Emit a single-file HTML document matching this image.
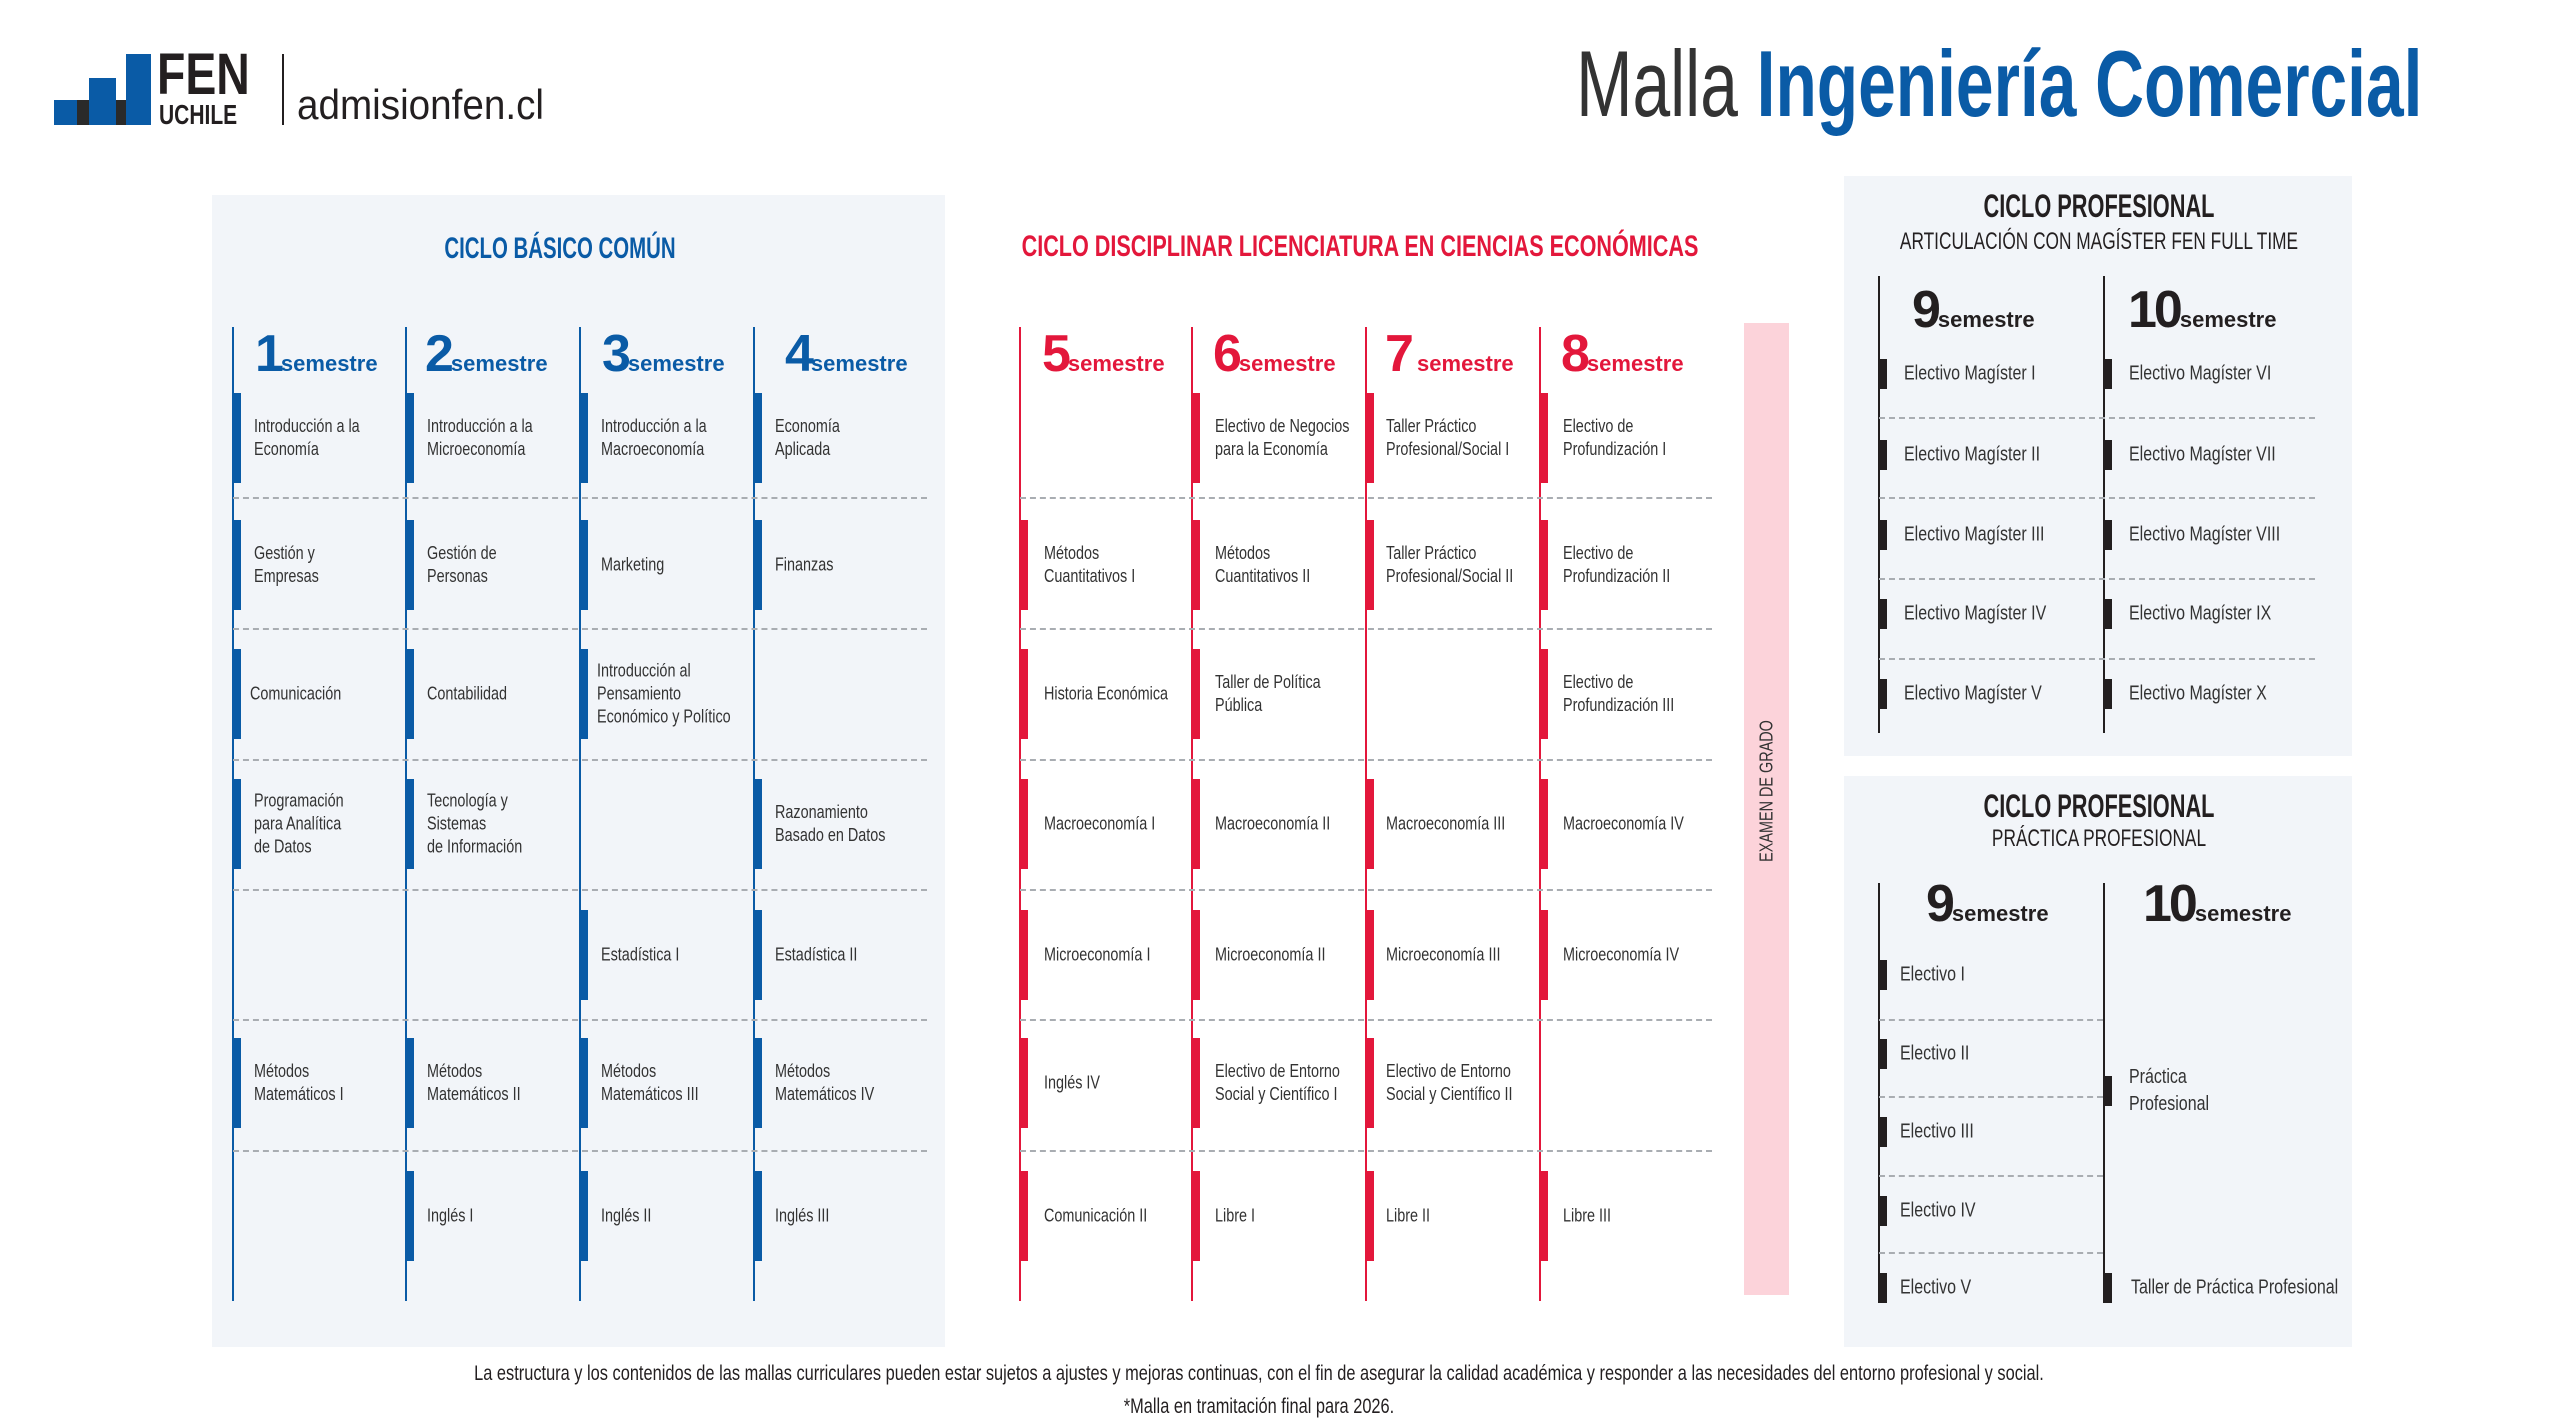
<!DOCTYPE html>
<html><head><meta charset="utf-8"><style>
*{margin:0;padding:0;box-sizing:border-box}
body{width:2560px;height:1418px;background:#fff;position:relative;overflow:hidden;font-family:"Liberation Sans",sans-serif;color:#2b2b2b}
.a{position:absolute}
.panel{position:absolute;background:#f2f5f9}
.vl{position:absolute;width:2px}
.dl{position:absolute;height:0;border-top:2px dashed #a9adb2}
.it{position:absolute;height:0}
.it b{position:absolute;left:0;top:-45px;width:9px;height:90px}
.it span{position:absolute;left:22px;top:0;white-space:nowrap;font-size:18px;line-height:23px;transform:translateY(-50%) scaleX(.8);transform-origin:left center;color:#333}
.blue b{background:#0a5ba6}.red b{background:#e3173b}
.dk b{background:#231f20;top:-15px;height:30px}
.dk span{font-size:20px;left:26px}
.sh{position:absolute;white-space:nowrap;font-weight:bold;line-height:1}
.sh .n{font-size:52px;letter-spacing:-3px}
.sh .s{font-size:22px;letter-spacing:0}
.ttl{position:absolute;white-space:nowrap;font-weight:bold;transform-origin:center;transform:translateX(-50%) scaleX(.68)}
</style></head><body>
<!-- logo -->
<div class="a" style="left:54px;top:100px;width:35px;height:25px;background:#0a5ba6"></div>
<div class="a" style="left:89px;top:78px;width:27px;height:47px;background:#0a5ba6"></div>
<div class="a" style="left:77px;top:100px;width:12px;height:25px;background:#2a2a2a"></div>
<div class="a" style="left:116px;top:100px;width:10px;height:25px;background:#2a2a2a"></div>
<div class="a" style="left:126px;top:54px;width:25px;height:71px;background:#0a5ba6"></div>
<div class="a" style="left:157px;top:46px;font-weight:bold;font-size:58px;line-height:58px;color:#231f20;transform:scaleX(.8);transform-origin:left">FEN</div>
<div class="a" style="left:159px;top:101px;font-weight:bold;font-size:28px;line-height:28px;color:#231f20;transform:scaleX(.75);transform-origin:left">UCHILE</div>
<div class="a" style="left:282px;top:54px;width:2px;height:71px;background:#231f20"></div>
<div class="a" style="left:297px;top:84px;font-size:42px;line-height:42px;color:#231f20;transform:scaleX(.92);transform-origin:left">admisionfen.cl</div>
<!-- title -->
<div class="a" style="right:138px;top:34px;font-size:94px;line-height:100px;white-space:nowrap;transform:scaleX(.72);transform-origin:right center"><span style="color:#333">Malla </span><b style="color:#0a5ba6">Ingeniería Comercial</b></div>

<!-- left panel -->
<div class="panel" style="left:212px;top:195px;width:733px;height:1152px"></div>
<div class="ttl" style="left:560px;top:232px;font-size:30px;color:#0a5ba6">CICLO BÁSICO COMÚN</div>
<div class="vl" style="left:232px;top:327px;height:974px;background:#0a5ba6"></div>
<div class="vl" style="left:405px;top:327px;height:974px;background:#0a5ba6"></div>
<div class="vl" style="left:579px;top:327px;height:974px;background:#0a5ba6"></div>
<div class="vl" style="left:753px;top:327px;height:974px;background:#0a5ba6"></div>
<div class="dl" style="left:233px;width:694px;top:497px"></div>
<div class="dl" style="left:233px;width:694px;top:628px"></div>
<div class="dl" style="left:233px;width:694px;top:759px"></div>
<div class="dl" style="left:233px;width:694px;top:889px"></div>
<div class="dl" style="left:233px;width:694px;top:1019px"></div>
<div class="dl" style="left:233px;width:694px;top:1150px"></div>
<div class="sh" style="left:255px;top:328px;color:#0a5ba6"><span class="n">1</span><span class="s">semestre</span></div>
<div class="sh" style="left:425px;top:328px;color:#0a5ba6"><span class="n">2</span><span class="s">semestre</span></div>
<div class="sh" style="left:602px;top:328px;color:#0a5ba6"><span class="n">3</span><span class="s">semestre</span></div>
<div class="sh" style="left:785px;top:328px;color:#0a5ba6"><span class="n">4</span><span class="s">semestre</span></div>

<div class="it blue" style="left:232px;top:438px"><b></b><span>Introducción a la<br>Economía</span></div>
<div class="it blue" style="left:232px;top:565px"><b></b><span>Gestión y<br>Empresas</span></div>
<div class="it blue" style="left:232px;top:694px"><b></b><span style="left:18px">Comunicación</span></div>
<div class="it blue" style="left:232px;top:824px"><b></b><span>Programación<br>para Analítica<br>de Datos</span></div>
<div class="it blue" style="left:232px;top:1083px"><b></b><span>Métodos<br>Matemáticos I</span></div>

<div class="it blue" style="left:405px;top:438px"><b></b><span>Introducción a la<br>Microeconomía</span></div>
<div class="it blue" style="left:405px;top:565px"><b></b><span>Gestión de<br>Personas</span></div>
<div class="it blue" style="left:405px;top:694px"><b></b><span>Contabilidad</span></div>
<div class="it blue" style="left:405px;top:824px"><b></b><span>Tecnología y<br>Sistemas<br>de Información</span></div>
<div class="it blue" style="left:405px;top:1083px"><b></b><span>Métodos<br>Matemáticos II</span></div>
<div class="it blue" style="left:405px;top:1216px"><b></b><span>Inglés I</span></div>

<div class="it blue" style="left:579px;top:438px"><b></b><span>Introducción a la<br>Macroeconomía</span></div>
<div class="it blue" style="left:579px;top:565px"><b></b><span>Marketing</span></div>
<div class="it blue" style="left:579px;top:694px"><b></b><span style="left:18px">Introducción al<br>Pensamiento<br>Económico y Político</span></div>
<div class="it blue" style="left:579px;top:955px"><b></b><span>Estadística I</span></div>
<div class="it blue" style="left:579px;top:1083px"><b></b><span>Métodos<br>Matemáticos III</span></div>
<div class="it blue" style="left:579px;top:1216px"><b></b><span>Inglés II</span></div>

<div class="it blue" style="left:753px;top:438px"><b></b><span>Economía<br>Aplicada</span></div>
<div class="it blue" style="left:753px;top:565px"><b></b><span>Finanzas</span></div>
<div class="it blue" style="left:753px;top:824px"><b></b><span>Razonamiento<br>Basado en Datos</span></div>
<div class="it blue" style="left:753px;top:955px"><b></b><span>Estadística II</span></div>
<div class="it blue" style="left:753px;top:1083px"><b></b><span>Métodos<br>Matemáticos IV</span></div>
<div class="it blue" style="left:753px;top:1216px"><b></b><span>Inglés III</span></div>

<!-- middle -->
<div class="ttl" style="left:1360px;top:230px;font-size:30px;color:#e3173b;transform:translateX(-50%) scaleX(.72)">CICLO DISCIPLINAR LICENCIATURA EN CIENCIAS ECONÓMICAS</div>
<div class="vl" style="left:1019px;top:327px;height:974px;background:#e3173b"></div>
<div class="vl" style="left:1191px;top:327px;height:974px;background:#e3173b"></div>
<div class="vl" style="left:1365px;top:327px;height:974px;background:#e3173b"></div>
<div class="vl" style="left:1539px;top:327px;height:974px;background:#e3173b"></div>
<div class="dl" style="left:1020px;width:692px;top:497px"></div>
<div class="dl" style="left:1020px;width:692px;top:628px"></div>
<div class="dl" style="left:1020px;width:692px;top:759px"></div>
<div class="dl" style="left:1020px;width:692px;top:889px"></div>
<div class="dl" style="left:1020px;width:692px;top:1019px"></div>
<div class="dl" style="left:1020px;width:692px;top:1150px"></div>
<div class="a" style="left:1744px;top:323px;width:45px;height:972px;background:#fcd3da"></div>
<div class="a" style="left:1767px;top:791px;font-size:18px;white-space:nowrap;color:#333;transform:translate(-50%,-50%) rotate(-90deg) scaleX(.8)">EXAMEN DE GRADO</div>
<div class="sh" style="left:1042px;top:328px;color:#e3173b"><span class="n">5</span><span class="s">semestre</span></div>
<div class="sh" style="left:1213px;top:328px;color:#e3173b"><span class="n">6</span><span class="s">semestre</span></div>
<div class="sh" style="left:1385px;top:328px;color:#e3173b"><span class="n">7</span><span class="s"> semestre</span></div>
<div class="sh" style="left:1561px;top:328px;color:#e3173b"><span class="n">8</span><span class="s">semestre</span></div>

<div class="it red" style="left:1019px;top:565px"><b></b><span style="left:25px">Métodos<br>Cuantitativos I</span></div>
<div class="it red" style="left:1019px;top:694px"><b></b><span style="left:25px">Historia Económica</span></div>
<div class="it red" style="left:1019px;top:824px"><b></b><span style="left:25px">Macroeconomía I</span></div>
<div class="it red" style="left:1019px;top:955px"><b></b><span style="left:25px">Microeconomía I</span></div>
<div class="it red" style="left:1019px;top:1083px"><b></b><span style="left:25px">Inglés IV</span></div>
<div class="it red" style="left:1019px;top:1216px"><b></b><span style="left:25px">Comunicación II</span></div>

<div class="it red" style="left:1191px;top:438px"><b></b><span style="left:24px">Electivo de Negocios<br>para la Economía</span></div>
<div class="it red" style="left:1191px;top:565px"><b></b><span style="left:24px">Métodos<br>Cuantitativos II</span></div>
<div class="it red" style="left:1191px;top:694px"><b></b><span style="left:24px">Taller de Política<br>Pública</span></div>
<div class="it red" style="left:1191px;top:824px"><b></b><span style="left:24px">Macroeconomía II</span></div>
<div class="it red" style="left:1191px;top:955px"><b></b><span style="left:24px">Microeconomía II</span></div>
<div class="it red" style="left:1191px;top:1083px"><b></b><span style="left:24px">Electivo de Entorno<br>Social y Científico I</span></div>
<div class="it red" style="left:1191px;top:1216px"><b></b><span style="left:24px">Libre I</span></div>

<div class="it red" style="left:1365px;top:438px"><b></b><span style="left:21px">Taller Práctico<br>Profesional/Social I</span></div>
<div class="it red" style="left:1365px;top:565px"><b></b><span style="left:21px">Taller Práctico<br>Profesional/Social II</span></div>
<div class="it red" style="left:1365px;top:824px"><b></b><span style="left:21px">Macroeconomía III</span></div>
<div class="it red" style="left:1365px;top:955px"><b></b><span style="left:21px">Microeconomía III</span></div>
<div class="it red" style="left:1365px;top:1083px"><b></b><span style="left:21px">Electivo de Entorno<br>Social y Científico II</span></div>
<div class="it red" style="left:1365px;top:1216px"><b></b><span style="left:21px">Libre II</span></div>

<div class="it red" style="left:1539px;top:438px"><b></b><span style="left:24px">Electivo de<br>Profundización I</span></div>
<div class="it red" style="left:1539px;top:565px"><b></b><span style="left:24px">Electivo de<br>Profundización II</span></div>
<div class="it red" style="left:1539px;top:694px"><b></b><span style="left:24px">Electivo de<br>Profundización III</span></div>
<div class="it red" style="left:1539px;top:824px"><b></b><span style="left:24px">Macroeconomía IV</span></div>
<div class="it red" style="left:1539px;top:955px"><b></b><span style="left:24px">Microeconomía IV</span></div>
<div class="it red" style="left:1539px;top:1216px"><b></b><span style="left:24px">Libre III</span></div>

<!-- right top -->
<div class="panel" style="left:1844px;top:176px;width:508px;height:580px"></div>
<div class="ttl" style="left:2099px;top:188px;font-size:32px;color:#231f20">CICLO PROFESIONAL</div>
<div class="a" style="left:2099px;top:228px;font-size:24px;white-space:nowrap;color:#231f20;transform:translateX(-50%) scaleX(.72)">ARTICULACIÓN CON MAGÍSTER FEN FULL TIME</div>
<div class="vl" style="left:1878px;top:276px;height:457px;background:#231f20"></div>
<div class="vl" style="left:2103px;top:276px;height:457px;background:#231f20"></div>
<div class="dl" style="left:1879px;width:436px;top:417px"></div>
<div class="dl" style="left:1879px;width:436px;top:497px"></div>
<div class="dl" style="left:1879px;width:436px;top:578px"></div>
<div class="dl" style="left:1879px;width:436px;top:658px"></div>
<div class="sh" style="left:1912px;top:284px;color:#231f20"><span class="n">9</span><span class="s">semestre</span></div>
<div class="sh" style="left:2128px;top:284px;color:#231f20"><span class="n">10</span><span class="s">semestre</span></div>
<div class="it dk" style="left:1878px;top:374px"><b></b><span>Electivo Magíster I</span></div>
<div class="it dk" style="left:1878px;top:455px"><b></b><span>Electivo Magíster II</span></div>
<div class="it dk" style="left:1878px;top:535px"><b></b><span>Electivo Magíster III</span></div>
<div class="it dk" style="left:1878px;top:614px"><b></b><span>Electivo Magíster IV</span></div>
<div class="it dk" style="left:1878px;top:694px"><b></b><span>Electivo Magíster V</span></div>
<div class="it dk" style="left:2103px;top:374px"><b></b><span>Electivo Magíster VI</span></div>
<div class="it dk" style="left:2103px;top:455px"><b></b><span>Electivo Magíster VII</span></div>
<div class="it dk" style="left:2103px;top:535px"><b></b><span>Electivo Magíster VIII</span></div>
<div class="it dk" style="left:2103px;top:614px"><b></b><span>Electivo Magíster IX</span></div>
<div class="it dk" style="left:2103px;top:694px"><b></b><span>Electivo Magíster X</span></div>

<!-- right bottom -->
<div class="panel" style="left:1844px;top:776px;width:508px;height:571px"></div>
<div class="ttl" style="left:2099px;top:788px;font-size:32px;color:#231f20">CICLO PROFESIONAL</div>
<div class="a" style="left:2099px;top:825px;font-size:24px;white-space:nowrap;color:#231f20;transform:translateX(-50%) scaleX(.72)">PRÁCTICA PROFESIONAL</div>
<div class="vl" style="left:1878px;top:883px;height:418px;background:#231f20"></div>
<div class="vl" style="left:2103px;top:883px;height:418px;background:#231f20"></div>
<div class="dl" style="left:1879px;width:224px;top:1019px"></div>
<div class="dl" style="left:1879px;width:224px;top:1096px"></div>
<div class="dl" style="left:1879px;width:224px;top:1175px"></div>
<div class="dl" style="left:1879px;width:224px;top:1252px"></div>
<div class="sh" style="left:1926px;top:878px;color:#231f20"><span class="n">9</span><span class="s">semestre</span></div>
<div class="sh" style="left:2143px;top:878px;color:#231f20"><span class="n">10</span><span class="s">semestre</span></div>
<div class="it dk" style="left:1878px;top:975px"><b></b><span style="left:22px">Electivo I</span></div>
<div class="it dk" style="left:1878px;top:1054px"><b></b><span style="left:22px">Electivo II</span></div>
<div class="it dk" style="left:1878px;top:1132px"><b></b><span style="left:22px">Electivo III</span></div>
<div class="it dk" style="left:1878px;top:1211px"><b></b><span style="left:22px">Electivo IV</span></div>
<div class="it dk" style="left:1878px;top:1288px"><b></b><span style="left:22px">Electivo V</span></div>
<div class="it dk" style="left:2103px;top:1091px"><b></b><span style="left:26px;line-height:27px">Práctica<br>Profesional</span></div>
<div class="it dk" style="left:2103px;top:1288px"><b></b><span style="left:28px">Taller de Práctica Profesional</span></div>

<!-- footer -->
<div class="a" style="left:1259px;top:1362px;font-size:21px;white-space:nowrap;color:#231f20;transform:translateX(-50%) scaleX(.78)">La estructura y los contenidos de las mallas curriculares pueden estar sujetos a ajustes y mejoras continuas, con el fin de asegurar la calidad académica y responder a las necesidades del entorno profesional y social.</div>
<div class="a" style="left:1259px;top:1395px;font-size:21px;white-space:nowrap;color:#231f20;transform:translateX(-50%) scaleX(.78)">*Malla en tramitación final para 2026.</div>
</body></html>
